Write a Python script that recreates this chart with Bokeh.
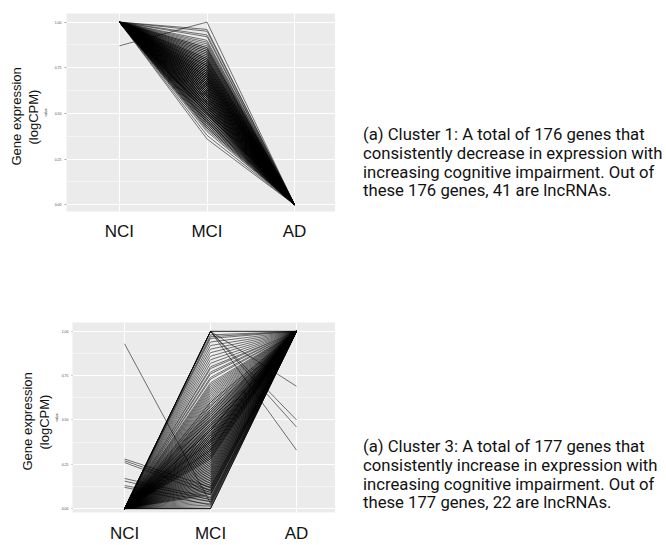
from bokeh.plotting import figure
from bokeh.models import Range1d, FixedTicker, NumeralTickFormatter, Title, Div
from bokeh.layouts import column, row
from bokeh.embed import file_html
from bokeh.resources import INLINE

categories = ["NCI", "MCI", "AD"]
y_ticks = [0.0, 0.25, 0.5, 0.75, 1.0]
y_minor = [0.125, 0.375, 0.625, 0.875]

# ---------------- Cluster 1 (176 genes, decreasing) ----------------
nci_c1 = [0.87,
    1, 1, 1, 1, 1,  1, 1, 1, 1, 1,  1, 1, 1, 1, 1,  1, 1, 1, 1, 1,  1, 1, 1, 1, 1,
    1, 1, 1, 1, 1,  1, 1, 1, 1, 1,  1, 1, 1, 1, 1,  1, 1, 1, 1, 1,  1, 1, 1, 1, 1,
    1, 1, 1, 1, 1,  1, 1, 1, 1, 1,  1, 1, 1, 1, 1,  1, 1, 1, 1, 1,  1, 1, 1, 1, 1,
    1, 1, 1, 1, 1,  1, 1, 1, 1, 1,  1, 1, 1, 1, 1,  1, 1, 1, 1, 1,  1, 1, 1, 1, 1,
    1, 1, 1, 1, 1,  1, 1, 1, 1, 1,  1, 1, 1, 1, 1,  1, 1, 1, 1, 1,  1, 1, 1, 1, 1,
    1, 1, 1, 1, 1,  1, 1, 1, 1, 1,  1, 1, 1, 1, 1,  1, 1, 1, 1, 1,  1, 1, 1, 1, 1,
    1, 1, 1, 1, 1,  1, 1, 1, 1, 1,  1, 1, 1, 1, 1,  1, 1, 1, 1, 1,  1, 1, 1, 1, 1]

mci_c1 = [
    1.00, 0.96, 0.95, 0.93, 0.92, 0.90, 0.89, 0.88, 0.87, 0.86,
    0.86, 0.85, 0.85, 0.84, 0.84, 0.83, 0.83, 0.82, 0.82, 0.81,
    0.81, 0.80, 0.80, 0.80, 0.79, 0.79, 0.78, 0.78, 0.78, 0.77,
    0.77, 0.77, 0.76, 0.76, 0.76, 0.75, 0.75, 0.75, 0.74, 0.74,
    0.74, 0.73, 0.73, 0.73, 0.72, 0.72, 0.72, 0.72, 0.71, 0.71,
    0.71, 0.70, 0.70, 0.70, 0.70, 0.69, 0.69, 0.69, 0.68, 0.68,
    0.68, 0.68, 0.67, 0.67, 0.67, 0.66, 0.66, 0.66, 0.66, 0.65,
    0.65, 0.65, 0.64, 0.64, 0.64, 0.64, 0.63, 0.63, 0.63, 0.62,
    0.62, 0.62, 0.62, 0.61, 0.61, 0.61, 0.60, 0.60, 0.60, 0.60,
    0.59, 0.59, 0.59, 0.58, 0.58, 0.58, 0.58, 0.57, 0.57, 0.57,
    0.56, 0.56, 0.56, 0.56, 0.55, 0.55, 0.55, 0.54, 0.54, 0.54,
    0.54, 0.53, 0.53, 0.53, 0.52, 0.52, 0.52, 0.52, 0.51, 0.51,
    0.51, 0.50, 0.50, 0.50, 0.50, 0.49, 0.49, 0.49, 0.48, 0.48,
    0.48, 0.47, 0.47, 0.47, 0.46, 0.46, 0.46, 0.45, 0.45, 0.45,
    0.44, 0.44, 0.43, 0.43, 0.42, 0.42, 0.41, 0.40, 0.38, 0.36,
    0.79, 0.76, 0.74, 0.71, 0.69, 0.67, 0.65, 0.63, 0.61, 0.59,
    0.57, 0.55, 0.53, 0.51, 0.70, 0.66, 0.62, 0.58, 0.54, 0.50,
    0.73, 0.68, 0.64, 0.60, 0.56, 0.52]

ad_c1 = [0,
    0, 0, 0, 0, 0,  0, 0, 0, 0, 0,  0, 0, 0, 0, 0,  0, 0, 0, 0, 0,  0, 0, 0, 0, 0,
    0, 0, 0, 0, 0,  0, 0, 0, 0, 0,  0, 0, 0, 0, 0,  0, 0, 0, 0, 0,  0, 0, 0, 0, 0,
    0, 0, 0, 0, 0,  0, 0, 0, 0, 0,  0, 0, 0, 0, 0,  0, 0, 0, 0, 0,  0, 0, 0, 0, 0,
    0, 0, 0, 0, 0,  0, 0, 0, 0, 0,  0, 0, 0, 0, 0,  0, 0, 0, 0, 0,  0, 0, 0, 0, 0,
    0, 0, 0, 0, 0,  0, 0, 0, 0, 0,  0, 0, 0, 0, 0,  0, 0, 0, 0, 0,  0, 0, 0, 0, 0,
    0, 0, 0, 0, 0,  0, 0, 0, 0, 0,  0, 0, 0, 0, 0,  0, 0, 0, 0, 0,  0, 0, 0, 0, 0,
    0, 0, 0, 0, 0,  0, 0, 0, 0, 0,  0, 0, 0, 0, 0,  0, 0, 0, 0, 0,  0, 0, 0, 0, 0]

# ---------------- Cluster 3 (177 genes, increasing) ----------------
nci_c3 = [0.93, 0.28, 0.27, 0.26, 0.17, 0.155, 0.13, 0.12,
    0, 0, 0, 0, 0,  0, 0, 0, 0, 0,  0, 0, 0, 0, 0,  0, 0, 0, 0, 0,  0, 0, 0, 0, 0,
    0, 0, 0, 0, 0,  0, 0, 0, 0, 0,  0, 0, 0, 0, 0,  0, 0, 0, 0, 0,  0, 0, 0, 0, 0,
    0, 0, 0, 0, 0,  0, 0, 0, 0, 0,  0, 0, 0, 0, 0,  0, 0, 0, 0, 0,  0, 0, 0, 0, 0,
    0, 0, 0, 0, 0,  0, 0, 0, 0, 0,  0, 0, 0, 0, 0,  0, 0, 0, 0, 0,  0, 0, 0, 0, 0,
    0, 0, 0, 0, 0,  0, 0, 0, 0, 0,  0, 0, 0, 0, 0,  0, 0, 0, 0, 0,  0, 0, 0, 0, 0,
    0, 0, 0, 0, 0,  0, 0, 0, 0, 0,  0, 0, 0, 0, 0,  0, 0, 0, 0, 0,  0, 0, 0, 0, 0,
    0, 0, 0, 0, 0,  0, 0, 0, 0, 0,  0, 0, 0, 0, 0,  0, 0, 0, 0]

mci_c3 = [0.03, 0.12, 0.10, 0.08, 0.06, 0.05, 0.04, 0.02,
    1.00, 1.00, 1.00, 1.00,
    1.00, 1.00, 0.98, 0.97, 0.96, 0.94, 0.92, 0.90, 0.88, 0.86,
    0.84, 0.82, 0.80, 0.79, 0.77, 0.76, 0.74, 0.73, 0.71, 0.70,
    0.69, 0.68, 0.67, 0.66, 0.65, 0.64, 0.63, 0.62, 0.61, 0.60,
    0.60, 0.59, 0.58, 0.58, 0.57, 0.56, 0.56, 0.55, 0.55, 0.54,
    0.54, 0.53, 0.53, 0.52, 0.52, 0.51, 0.51, 0.50, 0.50, 0.49,
    0.49, 0.48, 0.48, 0.47, 0.47, 0.47, 0.46, 0.46, 0.45, 0.45,
    0.45, 0.44, 0.44, 0.44, 0.43, 0.43, 0.42, 0.42, 0.42, 0.41,
    0.41, 0.41, 0.40, 0.40, 0.40, 0.39, 0.39, 0.39, 0.38, 0.38,
    0.38, 0.37, 0.37, 0.37, 0.36, 0.36, 0.36, 0.35, 0.35, 0.35,
    0.34, 0.34, 0.34, 0.33, 0.33, 0.33, 0.32, 0.32, 0.32, 0.31,
    0.31, 0.31, 0.30, 0.30, 0.30, 0.29, 0.29, 0.29, 0.28, 0.28,
    0.28, 0.27, 0.27, 0.26, 0.26, 0.25, 0.25, 0.24, 0.24, 0.23,
    0.23, 0.22, 0.22, 0.21, 0.21, 0.20, 0.20, 0.19, 0.19, 0.18,
    0.18, 0.17, 0.17, 0.16, 0.16, 0.15, 0.15, 0.14, 0.14, 0.13,
    0.13, 0.12, 0.12, 0.11, 0.11, 0.10, 0.10, 0.09, 0.09, 0.08,
    0.08, 0.07, 0.06, 0.05, 0.04, 0.03, 0.02, 0.01, 0.00, 0.00,
    0.00, 0.50, 0.44, 0.38, 0.33]

ad_c3 = [1, 1, 1, 1, 1, 1, 1, 1,
    0.69, 0.50, 0.46, 0.33,
    1, 1, 1, 1, 1,  1, 1, 1, 1, 1,  1, 1, 1, 1, 1,  1, 1, 1, 1, 1,  1, 1, 1, 1, 1,
    1, 1, 1, 1, 1,  1, 1, 1, 1, 1,  1, 1, 1, 1, 1,  1, 1, 1, 1, 1,  1, 1, 1, 1, 1,
    1, 1, 1, 1, 1,  1, 1, 1, 1, 1,  1, 1, 1, 1, 1,  1, 1, 1, 1, 1,  1, 1, 1, 1, 1,
    1, 1, 1, 1, 1,  1, 1, 1, 1, 1,  1, 1, 1, 1, 1,  1, 1, 1, 1, 1,  1, 1, 1, 1, 1,
    1, 1, 1, 1, 1,  1, 1, 1, 1, 1,  1, 1, 1, 1, 1,  1, 1, 1, 1, 1,  1, 1, 1, 1, 1,
    1, 1, 1, 1, 1,  1, 1, 1, 1, 1,  1, 1, 1, 1, 1,  1, 1, 1, 1, 1,  1, 1, 1, 1, 1,
    1, 1, 1, 1, 1,  1, 1, 1, 1, 1,  1, 1, 1, 1, 1]

text_c1 = ["(a) Cluster 1: A total of 176 genes that",
           "consistently decrease in expression with",
           "increasing cognitive impairment. Out of",
           "these 176 genes, 41 are lncRNAs."]
text_c3 = ["(a) Cluster 3: A total of 177 genes that",
           "consistently increase in expression with",
           "increasing cognitive impairment. Out of",
           "these 177 genes, 22 are lncRNAs."]
ylabel_lines = ["(logCPM)", "Gene expression"]   # inner line first


def make_panel(nci, mci, ad, xr, yr, height, border_left, border_top, border_bottom,
               standoff, yaxis_gaps, title_standoffs, title_offsets):
    p = figure(width=335, height=height, output_backend="svg", toolbar_location=None,
               x_range=Range1d(*xr), y_range=Range1d(*yr),
               min_border_left=border_left, min_border_right=0,
               min_border_top=border_top, min_border_bottom=border_bottom)
    p.background_fill_color = "#EBEBEB"
    p.border_fill_color = "white"
    p.outline_line_color = None

    x_pos = [i + 1 for i in range(len(categories))]
    xs = [x_pos for _ in nci]
    ys = [[n, m, a] for n, m, a in zip(nci, mci, ad)]
    p.multi_line(xs, ys, line_color="black", line_alpha=0.6, line_width=0.9)

    # x axis (categories)
    p.xaxis.ticker = FixedTicker(ticks=x_pos, minor_ticks=[])
    p.xaxis.major_label_overrides = {x: c for x, c in zip(x_pos, categories)}
    p.xaxis.major_label_text_font = "Liberation Sans"
    p.xaxis.major_label_text_font_size = "17px"
    p.xaxis.major_label_text_color = "#111111"
    p.xaxis.major_label_standoff = standoff
    p.xaxis.major_tick_line_color = None
    p.xaxis.major_tick_out = 0
    p.xaxis.minor_tick_line_color = None
    p.xaxis.axis_line_color = None

    # y axis (tiny, as in the ggplot export)
    tick_out, label_so, title_so = yaxis_gaps
    p.yaxis.ticker = FixedTicker(ticks=y_ticks, minor_ticks=y_minor)
    p.yaxis.formatter = NumeralTickFormatter(format="0.00")
    p.yaxis.major_label_text_font_size = "3.5px"
    p.yaxis.major_label_text_color = "#4D4D4D"
    p.yaxis.major_label_standoff = label_so
    p.yaxis.major_tick_out = tick_out
    p.yaxis.major_tick_in = 0
    p.yaxis.major_tick_line_color = "#555555"
    p.yaxis.major_tick_line_width = 0.5
    p.yaxis.minor_tick_line_color = None
    p.yaxis.axis_line_color = None
    p.yaxis.axis_label = "value"
    p.yaxis.axis_label_text_font_size = "3.5px"
    p.yaxis.axis_label_text_font_style = "normal"
    p.yaxis.axis_label_text_color = "#222222"
    p.yaxis.axis_label_standoff = title_so

    p.xgrid.grid_line_color = "white"
    p.xgrid.grid_line_width = 1.1
    p.ygrid.grid_line_color = "white"
    p.ygrid.grid_line_width = 1.1
    p.ygrid.minor_grid_line_color = "white"
    p.ygrid.minor_grid_line_width = 0.5

    for line, so, off in zip(ylabel_lines, title_standoffs, title_offsets):
        p.add_layout(Title(text=line, align="left", standoff=so, offset=off,
                           text_font="Liberation Sans", text_font_size="13px",
                           text_font_style="normal", text_color="#111111"), "left")
    return p


def make_text(lines, top):
    return Div(text="<br>".join(lines), width=310, height=60,
               margin=(top, 0, 0, 28),
               styles={"font-family": "Roboto", "font-size": "16.7px",
                       "line-height": "18.8px", "color": "#111111",
                       "white-space": "nowrap"})


p1 = make_panel(nci_c1, mci_c1, ad_c1, (0.396, 3.467), (-0.037, 1.047),
                height=313, border_left=66, border_top=13, border_bottom=102,
                standoff=10, yaxis_gaps=(2, 1, 4),
                title_standoffs=[0, 0], title_offsets=[67, 46])
p2 = make_panel(nci_c3, mci_c3, ad_c3, (0.395, 3.453), (-0.022, 1.05),
                height=232, border_left=72, border_top=9, border_bottom=31,
                standoff=11, yaxis_gaps=(1, 0, 0),
                title_standoffs=[0, 0], title_offsets=[63, 42])

t1 = make_text(text_c1, 126)
t2 = make_text(text_c3, 125)

layout = column(row(p1, t1, spacing=0), row(p2, t2, spacing=0), spacing=0)
open("out.html", "w").write(file_html(layout, INLINE))
